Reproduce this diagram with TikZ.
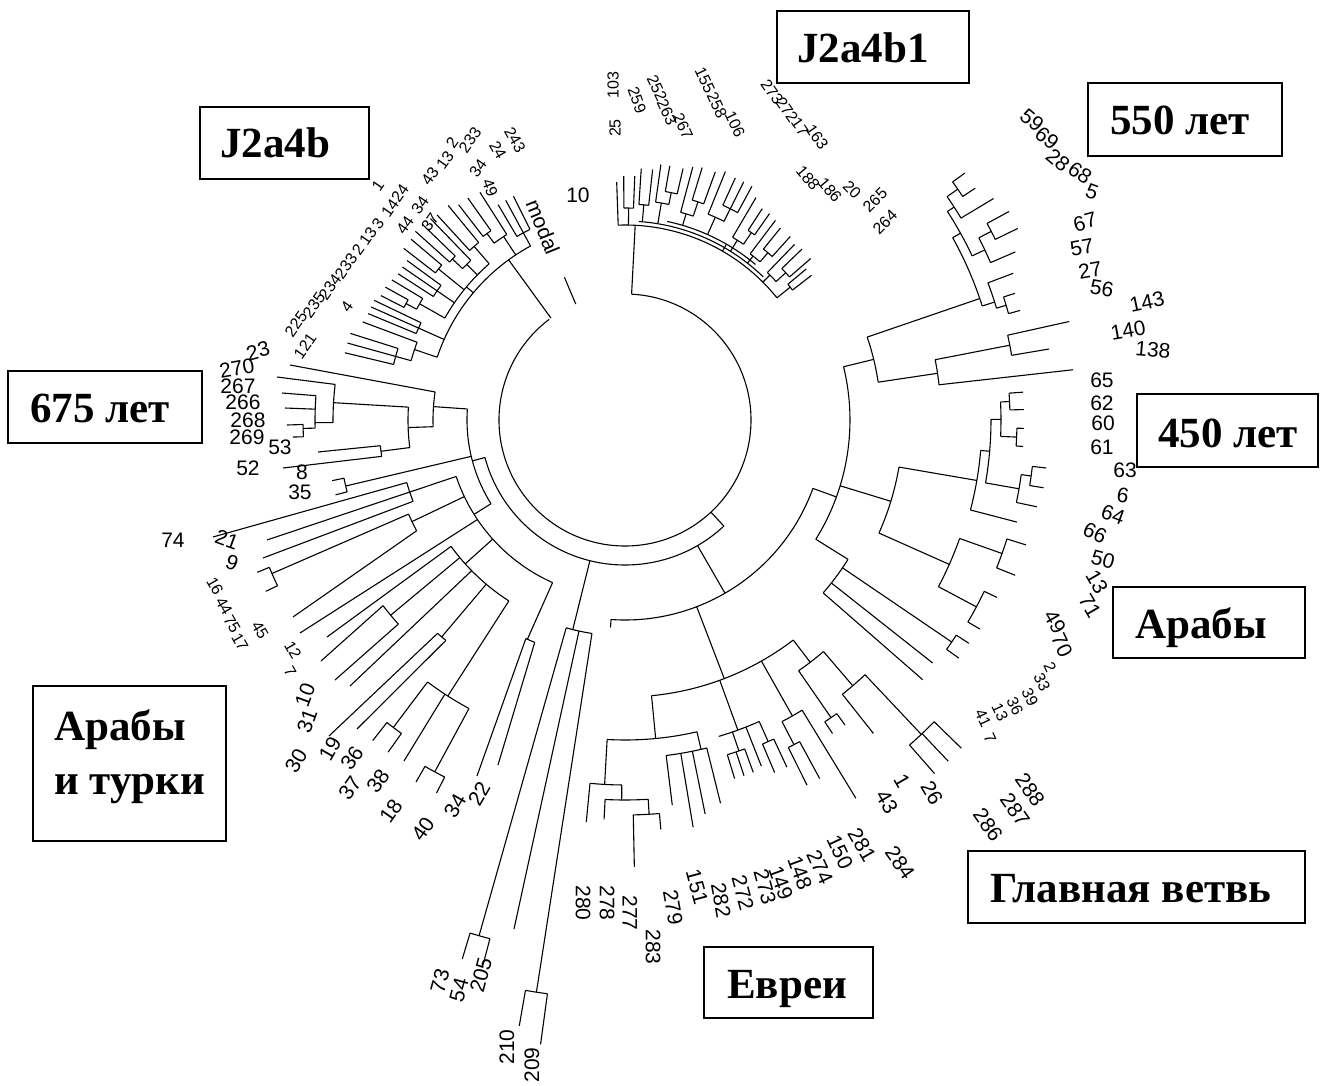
\documentclass[tikz,border=0pt]{standalone}
\usepackage{fontspec}
\setmainfont{Liberation Serif}
\newfontfamily\lblfont{Liberation Sans}
\tikzset{
 ln/.style={line width=1.1pt},
 lbl/.style={font=\lblfont\fontsize{21}{21}\selectfont, inner sep=0pt},
 lblsm/.style={font=\lblfont\fontsize{16}{16}\selectfont, inner sep=0pt},
 boxline/.style={line width=2.6pt},
 boxtxt/.style={font=\bfseries\fontsize{43}{43}\selectfont, inner sep=0pt}
}
\newcommand\darc[3]{\draw[ln] (#2:#1) arc[start angle=#2, end angle=#3, radius=#1];}
\newcommand\drad[3]{\draw[ln] (#1:#2) -- (#1:#3);}
\newcommand\dfan[5]{\darc{#1}{#2}{#3}\foreach \k in {1,...,#4}{\pgfmathsetmacro\fa{#2+(#3-#2)*(\k-1)/(#4-1)}\draw[ln] (\fa:#1) -- (\fa:#5);}}
\newcommand\dleafp[4]{\draw[ln] (#1:#2) -- ({#3-625},{420-#4});}
\newcommand\lab[4]{\node[lbl,rotate=#3] at ({#1-625},{420-#2}) {#4};}
\newcommand\labs[4]{\node[lblsm,rotate=#3] at ({#1-625},{420-#2}) {#4};}
\newcommand\bxr[4]{\draw[boxline] ({#1-625},{420-#2}) rectangle ({#3-625},{420-#4});}
\begin{document}
\begin{tikzpicture}[x=1pt,y=1pt]
\useasboundingbox (-625,-665) rectangle (709,420);
% ---------- root ----------
\darc{126}{87}{-233}
\drad{87}{126}{195}
\drad{113}{126}{155}
\drad{126}{126}{198}
\drad{-47}{126}{145}
% ---------- J2a4b1 ----------
\darc{195}{92}{38.8}
\darc{199}{86}{46}
\darc{203}{78}{50}
\drad{60}{195}{203}
\drad{92}{195}{238}
\drad{89}{195}{212} \dfan{212}{90.3}{87.7}{2}{244}
\drad{85}{199}{216} \dfan{216}{86.3}{83.7}{2}{252}
\drad{80.5}{199}{220} \darc{220}{82}{78.5} \drad{82}{220}{258} \drad{78.5}{220}{232} \dfan{232}{80}{77}{2}{258}
\drad{73.5}{203}{215} \darc{215}{75}{71.5} \drad{75}{215}{262} \drad{71.5}{215}{230} \dfan{230}{73}{70}{2}{264}
\drad{66}{203}{222} \darc{222}{68}{63.5} \drad{68}{222}{268} \drad{63.5}{222}{236} \dfan{236}{65.5}{61.5}{3}{266}
\drad{58}{199}{212} \darc{212}{59.5}{56} \drad{59.5}{212}{258} \drad{56}{212}{226} \dfan{226}{57}{55}{2}{252}
\drad{52}{199}{208} \darc{208}{53}{49.5} \drad{53}{208}{250} \drad{49.5}{208}{220} \dfan{220}{51}{48}{2}{247}
\drad{45}{195}{205} \darc{205}{46}{42.5} \drad{46}{205}{244} \drad{42.5}{205}{218} \dfan{218}{44}{41}{2}{246}
\drad{38.8}{195}{212} \dfan{212}{39.8}{37.8}{2}{236}
% ---------- J2a4b ----------
\darc{198}{118.5}{161.5}
\darc{207}{131}{150.5}
\drad{140}{198}{207}
\drad{118.5}{198}{213} \dfan{213}{116.5}{120.5}{3}{250}
\drad{123.5}{198}{220} \darc{220}{122.5}{126.5} \drad{122.5}{220}{270} \drad{126.5}{220}{232} \dfan{232}{125.3}{127.7}{2}{272}
\drad{131}{207}{230} \dfan{230}{129.5}{132.5}{2}{278}
\drad{135.5}{207}{222} \darc{222}{134}{137} \drad{134}{222}{280} \drad{137}{222}{236} \dfan{236}{136}{138}{2}{282}
\drad{141}{207}{240} \dfan{240}{139.8}{142.2}{2}{280}
\drad{145.5}{207}{228} \dfan{228}{143.8}{147.2}{3}{270}
\drad{150.5}{207}{236} \darc{236}{149}{152} \drad{149}{236}{272} \drad{152}{236}{248} \dfan{248}{151}{153}{2}{274}
\drad{156}{198}{226} \dfan{226}{154.5}{157.5}{3}{278}
\drad{161.5}{198}{222} \darc{222}{159.5}{164.5} \drad{159.5}{222}{280} \drad{164.5}{222}{238} \dfan{238}{162.5}{166.5}{3}{288}
% ---------- second arc and left node ----------
\darc{145}{-47}{-165}
\drad{-165}{145}{158}
\darc{158}{176}{212}
% 675
\drad{176}{158}{192}
\darc{192}{171.6}{182}
\dleafp{171.6}{192}{290}{365}
\drad{182}{192}{217}
\darc{217}{176.6}{187.3}
\drad{176.6}{217}{292}
\darc{292}{173}{180.5}
\dleafp{173}{292}{277}{377}
\drad{180.5}{292}{310}
\darc{310}{175.5}{181.5}
\dleafp{175.5}{310}{282}{393}
\dleafp{178}{310}{285}{408}
\drad{181.5}{310}{322}
\darc{322}{180.8}{183}
\dleafp{180.8}{322}{287}{425}
\dleafp{183}{322}{293}{437}
\drad{187.3}{217}{246}
\darc{246}{186}{188.5}
\dleafp{186}{246}{318}{452}
\dleafp{188.5}{246}{283}{468}
% 8 / 35
\drad{193.3}{158}{287}
\dfan{287}{191.7}{194.5}{2}{299}
% lower-left group
\drad{212}{158}{178}
\darc{178}{198.5}{246}
\drad{198.5}{178}{227}
\darc{227}{196}{201}
\dleafp{196}{227}{213}{537}
\dleafp{198.5}{227}{267}{540}
\dleafp{201}{227}{263}{558}
\drad{205.5}{178}{236}
\darc{236}{203.5}{208}
\drad{203.5}{236}{385}
\dfan{385}{202.5}{205.5}{2}{398}
\dleafp{208}{236}{293}{617}
\dleafp{214}{178}{300}{633}
\drad{222}{178}{215}
\darc{215}{216}{237.3}
\dleafp{216}{215}{327}{637}
\drad{219.8}{215}{305}
\darc{305}{217.5}{222}
\dleafp{217.5}{305}{321}{661}
\dleafp{222}{305}{335}{680}
\dleafp{224.5}{215}{350}{686}
\drad{229.8}{215}{284}
\darc{284}{228.7}{230.9}
\dleafp{228.7}{284}{329}{736}
\dleafp{230.9}{284}{357}{729}
\drad{237.3}{215}{328}
\darc{328}{233}{241.6}
\drad{233}{328}{385}
\dfan{385}{231.8}{234.5}{2}{408}
\dleafp{236.7}{328}{404}{761}
\drad{241.6}{328}{400}
\dfan{400}{240}{243.2}{2}{418}
\drad{246}{178}{240}
\darc{240}{245.6}{247.9}
\dleafp{245.6}{240}{477}{776}
\dleafp{247.9}{240}{498}{765}
% bottom long branches
\drad{256}{145}{216}
\darc{216}{254.2}{261.2}
\drad{254.2}{216}{536}
\dfan{536}{253.2}{255.4}{2}{563}
\dleafp{257.7}{216}{514}{929}
\drad{261.2}{216}{579}
\darc{579}{260.1}{262.3}
\drad{260.1}{579}{615}
\drad{262.3}{579}{630}
% ---------- right side ----------
\drad{-60}{145}{200}
\darc{200}{-20}{-94}
\drad{-94}{200}{208}
\drad{-20}{200}{225}
\darc{225}{13.7}{-32}
% RB: 550 and 143/140/138
\drad{13.7}{225}{256}
\darc{256}{18.9}{8.5}
\drad{18.9}{256}{375}
\darc{375}{29.1}{17.7}
\drad{29.1}{375}{384}
\darc{384}{32.9}{25.3}
\drad{32.9}{384}{392}
\darc{392}{34.75}{31}
\drad{34.75}{392}{405}
\dfan{405}{36}{33.5}{2}{420}
\drad{31}{392}{430}
\drad{25.3}{384}{398}
\darc{398}{27.25}{23.3}
\drad{27.25}{398}{412}
\dfan{412}{28.5}{26}{2}{437}
\drad{23.3}{398}{425}
\drad{17.7}{375}{388}
\darc{388}{20.7}{16.75}
\drad{20.7}{388}{415}
\drad{16.75}{388}{398}
\dfan{398}{18}{15.5}{2}{410}
\drad{8.5}{256}{316}
\darc{316}{11}{6.4}
\drad{11}{316}{392}
\darc{392}{12.5}{9.5}
\drad{12.5}{392}{455}
\drad{9.5}{392}{430}
\drad{6.4}{316}{451}
% RC: 450 and Arabs
\drad{-17}{225}{278}
\darc{278}{-9.75}{-24}
\drad{-9.75}{278}{357}
\darc{357}{-4.9}{-14.6}
\drad{-14.6}{357}{405}
\drad{-4.9}{357}{366}
\darc{366}{0.1}{-9.9}
\drad{0.1}{366}{376}
\darc{376}{2.75}{-2.5}
\drad{2.75}{376}{385}
\dfan{385}{4}{1.5}{2}{399}
\drad{-2.5}{376}{392}
\dfan{392}{-1.2}{-3.8}{2}{399}
\drad{-9.9}{366}{400}
\darc{400}{-7.85}{-11.9}
\drad{-7.85}{400}{410}
\dfan{410}{-6.5}{-9.2}{2}{424}
\drad{-11.9}{400}{421}
\drad{-24}{278}{355}
\darc{355}{-19.5}{-28}
\drad{-19.5}{355}{400}
\dfan{400}{-17.3}{-21.7}{2}{420}
\drad{-28}{355}{398}
\dfan{398}{-25.5}{-30.5}{2}{412}
% RD2
\drad{-32}{225}{263}
\darc{263}{-32}{-41.1}
\drad{-34.2}{263}{395}
\dfan{395}{-33}{-35.5}{2}{410}
\drad{-38.3}{263}{392}
\drad{-41.1}{263}{395}
% RE: main branch and Jews
\drad{-69}{200}{277}
\darc{277}{-52.6}{-84.5}
\drad{-52.6}{277}{305}
\darc{305}{-49.4}{-55.3}
\drad{-49.4}{305}{350}
\darc{350}{-46.7}{-51.6}
\drad{-46.7}{350}{432}
\dfan{432}{-44.3}{-48.8}{3}{470}
\drad{-51.6}{350}{400}
\drad{-55.3}{305}{362}
\dfan{362}{-54.2}{-56.5}{2}{376}
\drad{-60.5}{277}{340}
\darc{340}{-58.6}{-62.5}
\drad{-58.6}{340}{443}
\drad{-62.5}{340}{366}
\dfan{366}{-61.5}{-63.5}{2}{408}
\drad{-70}{277}{330}
\darc{330}{-66}{-73.5}
\drad{-66}{330}{352}
\dfan{352}{-65}{-67}{2}{383}
\drad{-68.5}{330}{372}
\drad{-71}{330}{350}
\dfan{350}{-70}{-73}{3}{375}
\drad{-84.5}{277}{320}
\darc{320}{-77}{-93.2}
\drad{-77}{320}{338}
\darc{338}{-76}{-83}
\drad{-76}{338}{395}
\drad{-78.5}{338}{402}
\drad{-80.5}{338}{413}
\drad{-83}{338}{388}
\drad{-93.2}{320}{365}
\darc{365}{-95.5}{-90.5}
\drad{-95.5}{365}{404}
\drad{-90.5}{365}{380}
\darc{380}{-93}{-86.5}
\drad{-93}{380}{400}
\drad{-86.5}{380}{395}
\darc{395}{-88.8}{-85}
\drad{-88.8}{395}{447}
\drad{-85}{395}{411}
% ---------- labels ----------
% J2a4b1
\labs{613}{85}{90}{103}
\labs{615}{128}{90}{25}
\labs{637}{100}{-70}{259}
\labs{657}{88}{-65}{252}
\labs{667}{112}{-65}{263}
\labs{683}{126}{-65}{267}
\labs{705}{80}{-65}{155}
\labs{717}{105}{-65}{258}
\labs{735}{124}{-65}{106}
\labs{772}{92}{-55}{273}
\labs{787}{110}{-55}{272}
\labs{800}{127}{-55}{17}
\labs{817}{137}{-55}{163}
\labs{808}{178}{-50}{188}
\labs{830}{190}{-50}{186}
\labs{852}{190}{-45}{20}
\labs{875}{200}{45}{265}
\labs{885}{222}{45}{264}
\lab{578}{195}{0}{10}
\lab{543}{227}{-68}{modal}
% J2a4b
\labs{305}{346}{55}{121}
\labs{296}{324}{55}{225}
\labs{314}{305}{55}{235}
\labs{330}{287}{55}{234}
\labs{347}{307}{55}{4}
\labs{346}{266}{55}{233}
\labs{358}{250}{55}{2}
\labs{368}{236}{55}{13}
\labs{378}{224}{55}{3}
\labs{390}{208}{55}{14}
\labs{378}{186}{55}{1}
\labs{400}{193}{55}{24}
\labs{405}{225}{55}{44}
\labs{420}{205}{55}{34}
\labs{430}{222}{55}{37}
\labs{430}{176}{55}{43}
\labs{445}{160}{55}{13}
\labs{452}{143}{55}{2}
\labs{470}{140}{55}{233}
\labs{478}{168}{55}{34}
\labs{490}{188}{-70}{49}
\labs{498}{150}{-60}{24}
\labs{515}{140}{-60}{243}
% right
\lab{1032}{120}{-40}{59}
\lab{1047}{138}{-40}{69}
\lab{1058}{160}{-40}{28}
\lab{1080}{173}{-35}{68}
\lab{1092}{192}{-20}{5}
\lab{1085}{222}{15}{67}
\lab{1082}{247}{10}{57}
\lab{1090}{270}{10}{27}
\lab{1102}{288}{-10}{56}
\lab{1147}{302}{12}{143}
\lab{1128}{330}{10}{140}
\lab{1153}{350}{-5}{138}
\lab{1102}{380}{0}{65}
\lab{1102}{403}{0}{62}
\lab{1103}{423}{0}{60}
\lab{1102}{447}{0}{61}
\lab{1125}{470}{0}{63}
\lab{1123}{495}{-10}{6}
\lab{1113}{515}{-20}{64}
\lab{1095}{533}{-25}{66}
\lab{1103}{560}{-15}{50}
\lab{1097}{582}{-60}{13}
\lab{1090}{606}{-60}{71}
\lab{1055}{622}{-60}{49}
\lab{1062}{645}{-65}{70}
\labs{1050}{667}{-65}{2}
\labs{1042}{682}{-65}{33}
\labs{1030}{697}{-65}{39}
\labs{1015}{706}{-65}{36}
\labs{1000}{712}{-65}{13}
\labs{983}{718}{-65}{41}
\labs{990}{738}{-65}{7}
\lab{1030}{790}{-55}{288}
\lab{1015}{810}{-55}{287}
\lab{988}{825}{-55}{286}
\lab{932}{793}{-60}{26}
\lab{902}{781}{-60}{1}
\lab{887}{802}{-60}{43}
% bottom
\lab{900}{863}{-55}{284}
\lab{862}{845}{-60}{281}
\lab{840}{852}{-65}{150}
\lab{820}{867}{-65}{274}
\lab{800}{873}{-70}{148}
\lab{781}{883}{-70}{149}
\lab{765}{887}{-75}{273}
\lab{743}{893}{-75}{272}
\lab{721}{900}{-80}{282}
\lab{697}{887}{-75}{151}
\lab{673}{907}{-80}{279}
\lab{653}{947}{-90}{283}
\lab{630}{913}{-90}{277}
\lab{607}{903}{-90}{278}
\lab{583}{903}{-90}{280}
\lab{532}{1065}{90}{209}
\lab{507}{1047}{90}{210}
\lab{481}{975}{75}{205}
\lab{459}{990}{75}{54}
\lab{440}{981}{75}{73}
% lower left
\lab{479}{794}{60}{22}
\lab{455}{806}{60}{34}
\lab{423}{829}{55}{40}
\lab{391}{811}{55}{18}
\lab{378}{781}{55}{38}
\lab{350}{788}{55}{37}
\lab{352}{758}{55}{36}
\lab{330}{749}{60}{19}
\lab{296}{761}{60}{30}
\lab{307}{721}{70}{31}
\lab{305}{695}{70}{10}
\labs{290}{672}{-60}{7}
\labs{293}{650}{-60}{12}
\labs{260}{630}{-60}{45}
\labs{240}{642}{-60}{17}
\labs{232}{624}{-60}{75}
\labs{224}{606}{-60}{44}
\labs{215}{586}{-60}{16}
\lab{232}{563}{-20}{9}
\lab{227}{540}{-20}{21}
\lab{173}{540}{0}{74}
\lab{300}{492}{0}{35}
\lab{302}{472}{0}{8}
\lab{248}{468}{0}{52}
\lab{280}{447}{0}{53}
\lab{247}{437}{0}{269}
\lab{248}{420}{0}{268}
\lab{243}{402}{0}{266}
\lab{238}{386}{0}{267}
\lab{237}{368}{10}{270}
\lab{258}{351}{15}{23}
% ---------- boxes ----------
\bxr{200}{107}{369}{179}
\node[boxtxt,anchor=base west] (tJa) at ({220-625},{420-158}) {J2a4b};
\bxr{777}{11}{969}{83}
\node[boxtxt,anchor=base west] (tJb) at ({797-625},{420-63}) {J2a4b1};
\bxr{1088}{83}{1282}{156}
\node[boxtxt,anchor=base west] (t550) at ({1110-625},{420-134}) {550 лет};
\bxr{8}{371}{202}{443}
\node[boxtxt,anchor=base west] (t675) at ({30-625},{420-422}) {675 лет};
\bxr{1137}{394}{1318}{467}
\node[boxtxt,anchor=base west] (t450) at ({1158-625},{420-447}) {450 лет};
\bxr{1113}{587}{1305}{658}
\node[boxtxt,anchor=base west] (tAr) at ({1135-625},{420-638}) {Арабы};
\bxr{33}{686}{226}{841}
\node[boxtxt,anchor=base west] (tAt1) at ({54-625},{420-740}) {Арабы};
\node[boxtxt,anchor=base west] (tAt2) at ({54-625},{420-794}) {и турки};
\bxr{704}{947}{873}{1018}
\node[boxtxt,anchor=base west] (tEv) at ({727-625},{420-998}) {Евреи};
\bxr{968}{851}{1305}{923}
\node[boxtxt,anchor=base west] (tGl) at ({990-625},{420-902}) {Главная ветвь};
\end{tikzpicture}
\end{document}
